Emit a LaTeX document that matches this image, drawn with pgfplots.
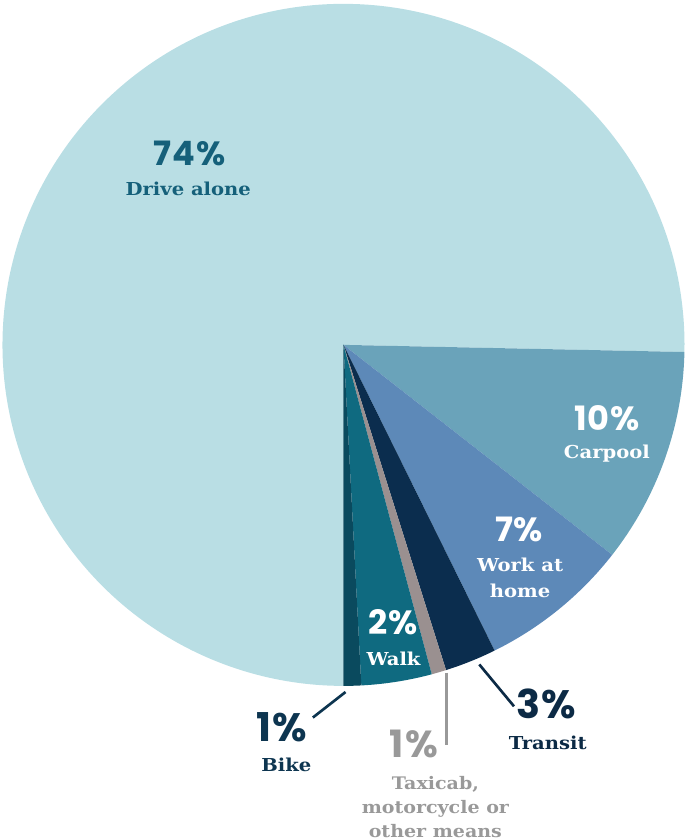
\documentclass[border=0pt]{standalone}
\usepackage{pgfplots}
\pgfplotsset{compat=1.18}
\usepackage{fontspec}
\setmainfont{DejaVu Serif}
\newfontfamily\pct[LetterSpace=3]{Poppins}
\newfontfamily\slab[FakeStretch=1.1]{DejaVu Serif}
\definecolor{cDrive}{HTML}{B9DEE4}
\definecolor{cCar}{HTML}{6AA3BA}
\definecolor{cWork}{HTML}{5D89B8}
\definecolor{cTransit}{HTML}{0B2D4E}
\definecolor{cTaxi}{HTML}{9A9090}
\definecolor{cWalk}{HTML}{0F6A80}
\definecolor{cBike}{HTML}{0A4A5E}
\definecolor{tDrive}{HTML}{15607A}
\definecolor{tBike}{HTML}{0D3550}
\definecolor{tTransit}{HTML}{0C2A45}
\definecolor{tTaxi}{HTML}{999999}
% slice: colour, start angle, end angle (degrees)
\newcommand\pieslice[3]{\fill[#1] (axis cs:348,493) -- ++(#2:334bp) arc[start angle=#2,end angle=#3,radius=334bp] -- cycle;}
\newcommand\pctfont[1]{\pct\bfseries\fontsize{#1}{#1}\selectfont}
\newcommand\labfont{\slab\bfseries\fontsize{17.5}{25}\selectfont}
\newcommand\taxifont{\slab\bfseries\fontsize{17}{23.5}\selectfont}
\begin{document}
\begin{tikzpicture}
\begin{axis}[hide axis, scale only axis, width=682bp, height=838bp,
  xmin=0, xmax=682, ymin=0, ymax=838, clip=false]
% slices: Drive alone 74%, Carpool 10%, Work at home 7%, Transit 3%, Taxicab 1%, Walk 2%, Bike 1%
\pieslice{cDrive}{-1.2}{270}
\pieslice{cCar}{-1.2}{-38}
\pieslice{cWork}{-38}{-63.7}
\pieslice{cTransit}{-63.7}{-72.5}
\pieslice{cTaxi}{-72.5}{-75}
\pieslice{cWalk}{-75}{-87}
\pieslice{cBike}{-87}{-90}
% leader lines
\draw[tBike, line width=2.6bp] (axis cs:350,153) -- (axis cs:318,128);
\draw[tTaxi, line width=2.2bp] (axis cs:449,172) -- (axis cs:449,101);
\draw[tTransit, line width=2.6bp] (axis cs:481,180) -- (axis cs:515,139);
% labels
\node[text=tDrive, inner sep=0] at (axis cs:197,680) {\pctfont{33}74\%};
\node[text=tDrive, inner sep=0, font=\labfont] at (axis cs:196,646) {Drive alone};
\node[text=white, inner sep=0] at (axis cs:606,421) {\pctfont{33}10\%};
\node[text=white, inner sep=0, font=\labfont] at (axis cs:606,387) {Carpool};
\node[text=white, inner sep=0] at (axis cs:520,312) {\pctfont{33}7\%};
\node[text=white, inner sep=0, align=center, font=\labfont] at (axis cs:521,265) {Work at\\home};
\node[text=white, inner sep=0] at (axis cs:397,221) {\pctfont{33}2\%};
\node[text=white, inner sep=0, font=\labfont] at (axis cs:397,185) {Walk};
\node[text=tBike, inner sep=0] at (axis cs:288,119) {\pctfont{39}1\%};
\node[text=tBike, inner sep=0, font=\labfont] at (axis cs:292,82) {Bike};
\node[text=tTaxi, inner sep=0] at (axis cs:417,102) {\pctfont{37}1\%};
\node[text=tTaxi, inner sep=0, align=center, font=\taxifont] at (axis cs:438,40) {Taxicab,\\motorcycle or\\other means};
\node[text=tTransit, inner sep=0] at (axis cs:547,141) {\pctfont{39}3\%};
\node[text=tTransit, inner sep=0, font=\labfont] at (axis cs:548,103) {Transit};
\end{axis}
\end{tikzpicture}
\end{document}
